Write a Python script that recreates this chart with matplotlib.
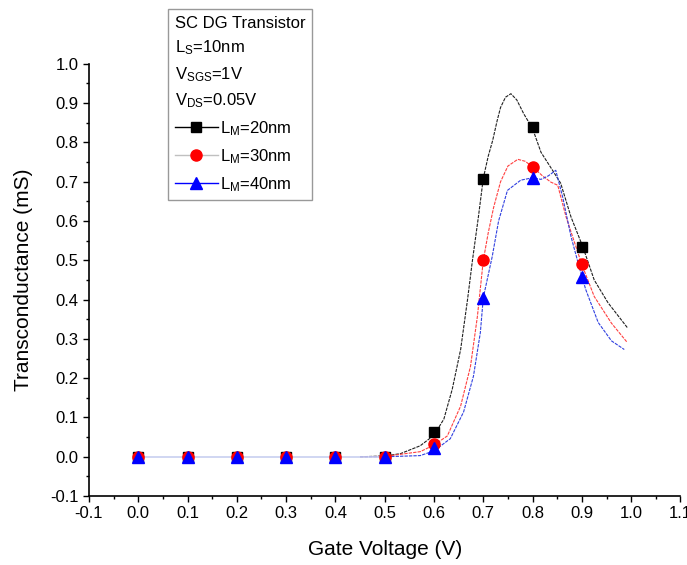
import matplotlib
matplotlib.use("Agg")
import matplotlib.pyplot as plt
from matplotlib.lines import Line2D
from matplotlib.ticker import MultipleLocator

plt.rcParams['font.family'] = ['Liberation Sans', 'DejaVu Sans']
plt.rcParams['mathtext.fontset'] = 'custom'
plt.rcParams['mathtext.rm'] = 'Liberation Sans'
plt.rcParams['mathtext.it'] = 'Liberation Sans:italic'

# measured points
vg = [0.0, 0.1, 0.2, 0.3, 0.4, 0.5, 0.6, 0.7, 0.8, 0.9]
gm_20 = [0.0, 0.0, 0.0, 0.0, 0.0, 0.0, 0.063, 0.708, 0.838, 0.533]
gm_30 = [0.0, 0.0, 0.0, 0.0, 0.0, 0.0, 0.033, 0.500, 0.738, 0.490]
gm_40 = [0.0, 0.0, 0.0, 0.0, 0.0, 0.0, 0.022, 0.405, 0.710, 0.458]

# fitted curves
fit20_v = [0.45, 0.50, 0.532, 0.572, 0.60, 0.62, 0.637, 0.654, 0.668, 0.678, 0.69, 0.70,
           0.71, 0.719, 0.728, 0.735, 0.745, 0.756, 0.768, 0.782, 0.80, 0.817, 0.84, 0.857,
           0.878, 0.902, 0.925, 0.953, 0.992]
fit20_g = [0.0, 0.002, 0.008, 0.028, 0.055, 0.096, 0.172, 0.273, 0.40, 0.50, 0.61, 0.709,
           0.765, 0.805, 0.855, 0.889, 0.915, 0.924, 0.908, 0.873, 0.835, 0.775, 0.73, 0.696,
           0.61, 0.534, 0.45, 0.392, 0.329]

fit30_v = [0.45, 0.50, 0.572, 0.60, 0.627, 0.654, 0.674, 0.688, 0.70, 0.71, 0.721, 0.735,
           0.75, 0.77, 0.785, 0.80, 0.82, 0.837, 0.851, 0.868, 0.90, 0.925, 0.96, 0.992]
fit30_g = [0.0, 0.001, 0.013, 0.03, 0.053, 0.129, 0.23, 0.357, 0.50, 0.57, 0.635, 0.70,
           0.74, 0.757, 0.752, 0.738, 0.715, 0.699, 0.691, 0.61, 0.489, 0.408, 0.34, 0.291]

fit40_v = [0.45, 0.50, 0.572, 0.60, 0.633, 0.66, 0.68, 0.694, 0.70, 0.718, 0.731, 0.749,
           0.776, 0.80, 0.817, 0.832, 0.847, 0.861, 0.878, 0.90, 0.908, 0.933, 0.96, 0.986]
fit40_g = [0.0, 0.0, 0.003, 0.015, 0.046, 0.114, 0.205, 0.316, 0.405, 0.509, 0.60, 0.678,
           0.704, 0.71, 0.706, 0.715, 0.729, 0.661, 0.56, 0.458, 0.425, 0.342, 0.295, 0.273]

labels = [r'$\mathregular{L_M}$=20nm', r'$\mathregular{L_M}$=30nm', r'$\mathregular{L_M}$=40nm']

fig = plt.figure(figsize=(6.87, 5.65), dpi=100)
ax = fig.add_axes([0.1295, 0.122, 0.861, 0.765])

dash = (0, (3, 1))
ax.plot(fit20_v, fit20_g, color='#202020', lw=0.8, ls=dash)
ax.plot(fit30_v, fit30_g, color='#ff4040', lw=0.8, ls=dash)
ax.plot(fit40_v, fit40_g, color='#3040e0', lw=0.8, ls=dash)

# flat part at zero
ax.plot(vg[:6], gm_40[:6], color='#c8cff0', lw=1.2)

ax.plot(vg, gm_20, ls='none', marker='s', ms=7.5, color='black')
ax.plot(vg, gm_30, ls='none', marker='o', ms=8, color='red')
ax.plot(vg, gm_40, ls='none', marker='^', ms=8.5, color='blue')

ax.set_xlim(-0.1, 1.1)
ax.set_ylim(-0.1, 1.0)
ax.xaxis.set_major_locator(MultipleLocator(0.1))
ax.xaxis.set_minor_locator(MultipleLocator(0.05))
ax.yaxis.set_major_locator(MultipleLocator(0.1))
ax.yaxis.set_minor_locator(MultipleLocator(0.05))
ax.xaxis.set_major_formatter(plt.FormatStrFormatter('%.1f'))
ax.yaxis.set_major_formatter(plt.FormatStrFormatter('%.1f'))
ax.tick_params(which='major', direction='out', length=4, width=1, labelsize=12)
ax.tick_params(which='minor', direction='out', length=2.5, width=1)
ax.spines['top'].set_visible(False)
ax.spines['right'].set_visible(False)
ax.spines['left'].set_linewidth(1.2)
ax.spines['bottom'].set_linewidth(1.2)

ax.set_xlabel('Gate Voltage (V)', fontsize=15, labelpad=13)
ax.set_ylabel('Transconductance (mS)', fontsize=15, labelpad=12)

handles = [
    Line2D([], [], color='black', lw=1, marker='s', ms=7.5),
    Line2D([], [], color='#c0c0c0', lw=1, marker='o', ms=8, mfc='red', mec='red'),
    Line2D([], [], color='blue', lw=1, marker='^', ms=8.5, mfc='blue', mec='blue'),
]
title = ('SC DG Transistor\n'
         r'$\mathregular{L_S}$=10nm' '\n'
         r'$\mathregular{V_{SGS}}$=1V' '\n'
         r'$\mathregular{V_{DS}}$=0.05V')
leg = fig.legend(handles, labels, loc='upper left', bbox_to_anchor=(0.2445, 0.984),
                 title=title, title_fontsize=12, fontsize=12, frameon=True,
                 fancybox=False, edgecolor='#808080', handlelength=2.6,
                 handletextpad=0.1, borderpad=0.4, labelspacing=0.55, borderaxespad=0)
leg.get_frame().set_linewidth(1)
leg.get_title().set_linespacing(1.55)
leg._legend_box.align = 'left'

fig.savefig('out.png', dpi=100)
